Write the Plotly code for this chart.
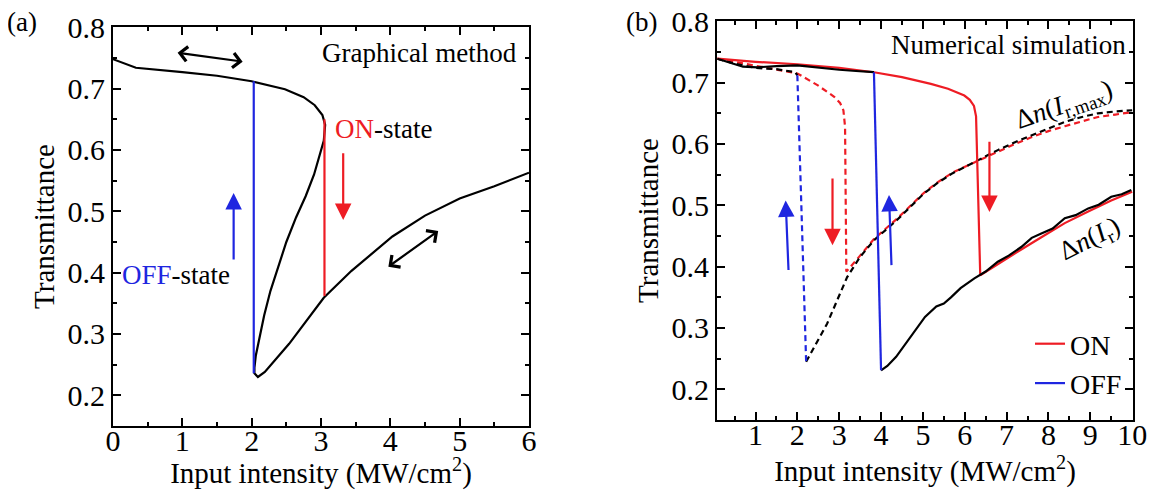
import plotly.graph_objects as go

RED = "#ee1c24"
BLUE = "#1f26e0"
FONT = "Liberation Serif"

# ---------------- Panel (a): graphical method ----------------
a_curve_x = [0, 0.33, 1.0, 1.5, 2.0, 2.48, 2.75, 2.91, 3.02, 3.06, 3.04, 2.98, 2.90, 2.78,
             2.64, 2.50, 2.38, 2.27, 2.18, 2.11, 2.06, 2.04, 2.04, 2.09, 2.19, 2.54, 3.04,
             3.44, 4.03, 4.5, 5.0, 5.5, 6.0]
a_curve_y = [0.748, 0.734, 0.727, 0.721, 0.712, 0.699, 0.686, 0.673, 0.657, 0.641, 0.615,
             0.590, 0.560, 0.525, 0.490, 0.450, 0.410, 0.370, 0.330, 0.295, 0.265, 0.245,
             0.236, 0.230, 0.238, 0.284, 0.359, 0.403, 0.459, 0.493, 0.521, 0.541, 0.563]
a_off_x = [2.03, 2.03]
a_off_y = [0.236, 0.712]
a_on_x = [3.05, 3.05]
a_on_y = [0.650, 0.362]

# arrows (a): [tail_x, tail_y, head_x, head_y]
a_arrow_up = [1.74, 0.419, 1.74, 0.530]
a_arrow_down = [3.32, 0.597, 3.32, 0.486]
a_dbl_top = [0.91, 0.759, 1.87, 0.744]
a_dbl_low = [3.95, 0.408, 4.69, 0.468]

# ---------------- Panel (b): numerical simulation ----------------
# solid red (ON, Δn(I_r))
b_on_x = [0.09, 1.0, 2.0, 3.0, 3.83, 4.5, 5.19, 5.6, 5.99, 6.12, 6.22, 6.27, 6.37, 6.8, 7.35,
          7.83, 8.39, 8.95, 9.5, 10.0]
b_on_y = [0.739, 0.734, 0.730, 0.724, 0.717, 0.709, 0.698, 0.690, 0.679, 0.672, 0.662, 0.645,
          0.386, 0.405, 0.428, 0.448, 0.471, 0.490, 0.508, 0.522]
# solid black upper branch
b_up_x = [0.09, 0.4, 0.7, 1.05, 1.5, 2.0, 2.5, 3.0, 3.4, 3.83]
b_up_y = [0.739, 0.733, 0.726, 0.725, 0.727, 0.728, 0.724, 0.721, 0.719, 0.717]
# solid blue (OFF)
b_off_x = [3.83, 4.0]
b_off_y = [0.717, 0.231]
# solid black lower branch
b_low_x = [4.0, 4.15, 4.36, 4.6, 4.84, 5.05, 5.32, 5.5, 5.67, 5.9, 6.23, 6.5, 6.79, 7.05,
           7.35, 7.6, 7.83, 8.1, 8.39, 8.65, 8.95, 9.2, 9.5, 9.75, 9.98]
b_low_y = [0.231, 0.238, 0.253, 0.276, 0.297, 0.318, 0.335, 0.340, 0.350, 0.365, 0.381, 0.392,
           0.408, 0.418, 0.432, 0.447, 0.454, 0.462, 0.479, 0.484, 0.495, 0.501, 0.514, 0.518,
           0.525]
# dashed red (Δn(I_r,max), ON)
b_don_x = [0.09, 1.0, 2.0, 2.48, 2.88, 3.02, 3.10, 3.14, 3.17, 3.5, 3.83, 4.38, 5.02, 5.34,
           5.7, 6.23, 6.79, 7.2, 7.59, 8.0, 8.39, 8.8, 9.18, 9.6, 10.0]
b_don_y = [0.739, 0.728, 0.715, 0.696, 0.677, 0.667, 0.655, 0.628, 0.392, 0.418, 0.445, 0.478,
           0.520, 0.537, 0.553, 0.570, 0.588, 0.600, 0.611, 0.621, 0.629, 0.637, 0.644, 0.648,
           0.652]
# dashed black upper
b_dup_x = [0.09, 0.5, 1.0, 1.5, 1.95, 2.0]
b_dup_y = [0.739, 0.731, 0.724, 0.722, 0.717, 0.712]
# dashed blue (OFF)
b_doff_x = [2.0, 2.21]
b_doff_y = [0.712, 0.245]
# dashed black lower
b_dlow_x = [2.21, 2.71, 3.19, 3.5, 3.83, 4.38, 5.02, 5.34, 5.7, 6.23, 6.79, 7.2, 7.59, 8.0,
            8.39, 8.8, 9.18, 9.6, 10.0]
b_dlow_y = [0.245, 0.307, 0.383, 0.416, 0.443, 0.476, 0.519, 0.536, 0.552, 0.571, 0.590, 0.603,
            0.614, 0.626, 0.636, 0.644, 0.650, 0.653, 0.655]

# arrows (b)
b_arrow_up1 = [1.79, 0.392, 1.72, 0.508]
b_arrow_down1 = [2.84, 0.546, 2.84, 0.435]
b_arrow_up2 = [4.25, 0.400, 4.19, 0.517]
b_arrow_down2 = [6.59, 0.606, 6.59, 0.489]

a_xticks = [0, 1, 2, 3, 4, 5, 6]
b_xticks = [1, 2, 3, 4, 5, 6, 7, 8, 9, 10]
y_ticks = [0.2, 0.3, 0.4, 0.5, 0.6, 0.7, 0.8]

fig = go.Figure()


def line(x, y, color, xa, ya, dash="solid", name=None, legend=False, width=2.2):
    fig.add_trace(go.Scatter(x=x, y=y, mode="lines", xaxis=xa, yaxis=ya,
                             line=dict(color=color, width=width, dash=dash),
                             name=name, showlegend=legend, hoverinfo="skip"))


# panel a
line(a_curve_x, a_curve_y, "black", "x", "y")
line(a_off_x, a_off_y, BLUE, "x", "y")
line(a_on_x, a_on_y, RED, "x", "y")

# panel b
DASH = "6px,4px"
line(b_don_x, b_don_y, RED, "x2", "y2", dash=DASH)
line(b_dup_x, b_dup_y, "black", "x2", "y2", dash=DASH)
line(b_dlow_x, b_dlow_y, "black", "x2", "y2", dash=DASH)
line(b_doff_x, b_doff_y, BLUE, "x2", "y2", dash=DASH)
line(b_on_x, b_on_y, RED, "x2", "y2", name="ON", legend=True)
line(b_up_x, b_up_y, "black", "x2", "y2")
line(b_low_x, b_low_y, "black", "x2", "y2")
line(b_off_x, b_off_y, BLUE, "x2", "y2", name="OFF", legend=True)

annotations = []


def arrow(a, color, xr, yr, double=False, head=2, size=1.5):
    d = dict(x=a[2], y=a[3], ax=a[0], ay=a[1], xref=xr, yref=yr, axref=xr, ayref=yr,
             text="", showarrow=True, arrowcolor=color, arrowwidth=2.2, arrowhead=head,
             arrowsize=size)
    if double:
        d.update(arrowside="end+start", startarrowhead=head, startarrowsize=size)
    annotations.append(d)


arrow(a_arrow_up, BLUE, "x", "y")
arrow(a_arrow_down, RED, "x", "y")
arrow(a_dbl_top, "black", "x", "y", double=True, head=4, size=1.3)
arrow(a_dbl_low, "black", "x", "y", double=True, head=4, size=1.3)
arrow(b_arrow_up1, BLUE, "x2", "y2")
arrow(b_arrow_down1, RED, "x2", "y2")
arrow(b_arrow_up2, BLUE, "x2", "y2")
arrow(b_arrow_down2, RED, "x2", "y2")


def text(t, x, y, xr, yr, xanchor="center", yanchor="middle", angle=0, size=27, yshift=0):
    annotations.append(dict(text=t, x=x, y=y, xref=xr, yref=yr, xanchor=xanchor,
                            yanchor=yanchor, showarrow=False, textangle=angle, yshift=yshift,
                            font=dict(family=FONT, size=size, color="black")))


# The page body has an 8 px margin, so the figure is 16 px smaller than the window
# and every pixel position below is measured from the figure's own corner.
W, H = 1141, 482
P = 8

text("Graphical method", 5.86, 0.758, "x", "y", xanchor="right")
text(f"<span style='color:{RED}'>ON</span>-state", 3.17, 0.634, "x", "y", xanchor="left")
text(f"<span style='color:{BLUE}'>OFF</span>-state", 0.1, 0.397, "x", "y", xanchor="left")
text("Numerical simulation", 9.9, 0.761, "x2", "y2", xanchor="right")
text("Δ<i>n</i>(<i>I</i><sub>r,max</sub>)", 8.38, 0.662, "x2", "y2", angle=-19)
text("Δ<i>n</i>(<i>I</i><sub>r</sub>)", 9.0, 0.444, "x2", "y2", angle=-27)
text("(a)", (22 - P) / W, 1.0, "paper", "paper", yanchor="top", size=27, yshift=3)
text("(b)", (641 - P) / W, 1.0, "paper", "paper", yanchor="top", size=27, yshift=3)

axis_common = dict(showline=True, linewidth=2, linecolor="black", mirror="ticks",
                   ticks="inside", ticklen=8, tickwidth=2, tickcolor="black",
                   showgrid=False, zeroline=False, automargin=False,
                   ticklabeloverflow="allow",
                   tickfont=dict(family=FONT, size=30, color="black"),
                   title_font=dict(family=FONT, size=29, color="black"))
minor_x = dict(ticks="inside", ticklen=4, tickwidth=2, dtick=0.5, tick0=0, tickcolor="black")
minor_y = dict(ticks="inside", ticklen=4, tickwidth=2, dtick=0.05, tick0=0, tickcolor="black")
xtitle = "Input intensity (MW/cm<sup>2</sup>)"


def dom_x(l, r):
    return [(l - P) / W, (r - P) / W]


def dom_y(t, b):
    return [1 - (b - P) / H, 1 - (t - P) / H]


fig.update_layout(
    width=W, height=H, paper_bgcolor="white", plot_bgcolor="white",
    margin=dict(l=0, r=0, t=0, b=0, autoexpand=False),
    font=dict(family=FONT, size=26, color="black"),
    xaxis=dict(domain=dom_x(113, 529), range=[0, 6], tickvals=a_xticks, anchor="y",
               minor=minor_x, ticklabelstandoff=-13,
               title=dict(text=xtitle, standoff=8), **axis_common),
    yaxis=dict(domain=dom_y(27, 426), range=[0.15, 0.8005], tickvals=y_ticks,
               tickformat=".1f", anchor="x", minor=minor_y,
               title=dict(text="Transmittance", standoff=4), **axis_common),
    xaxis2=dict(domain=dom_x(717, 1133), range=[0.08, 10.02], tickvals=b_xticks,
                anchor="y2", minor=minor_x, ticklabelstandoff=-13,
                title=dict(text=xtitle, standoff=8), **axis_common),
    yaxis2=dict(domain=dom_y(21, 420), range=[0.15, 0.8005], tickvals=y_ticks,
                tickformat=".1f", anchor="x2", minor=minor_y,
                title=dict(text="Transmittance", standoff=4), **axis_common),
    legend=dict(x=(1030 - P) / W, y=1 - (319 - P) / H, xanchor="left", yanchor="top",
                bgcolor="rgba(0,0,0,0)", font=dict(family=FONT, size=28, color="black"),
                traceorder="normal", tracegroupgap=0),
    annotations=annotations,
)

fig.write_html("out.html")
